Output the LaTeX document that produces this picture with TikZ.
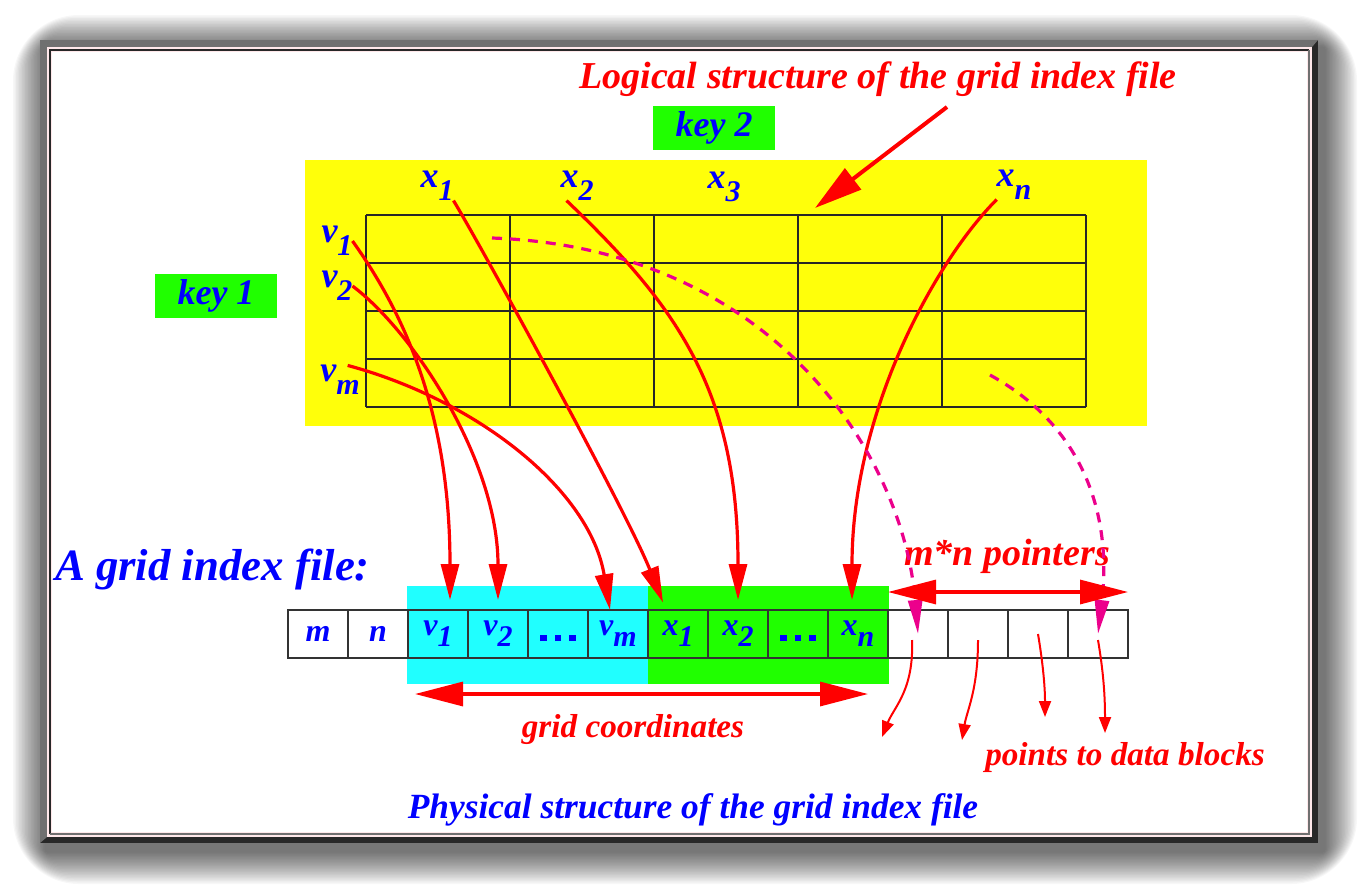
\documentclass[tikz,border=0pt]{standalone}
\usepackage{fontspec}
\setmainfont{Liberation Serif}
\usetikzlibrary{arrows.meta}
\definecolor{hiyellow}{RGB}{255,255,10}
\definecolor{hicyan}{RGB}{32,255,255}
\definecolor{higreen}{RGB}{32,255,0}
\definecolor{framepink}{RGB}{255,232,234}
\definecolor{framegray}{RGB}{112,112,112}
\definecolor{framedark}{RGB}{40,40,40}
\tikzset{
  bi/.style = {inner sep=0pt, outer sep=0pt,
               font=\fontsize{#1}{#1}\selectfont\bfseries\itshape},
  bi/.default = 18,
  lbl/.style = {bi=18, text=blue},
  keybox/.style = {bi=18, text=blue, fill=higreen,
                   minimum width=61pt, minimum height=22pt},
  cell/.style = {bi=16, text=blue, draw=black!80, line width=1pt,
                 minimum width=30pt, minimum height=24pt},
  gridline/.style = {black!85, line width=1pt},
  ptr/.style = {red, line width=1.6pt, shorten >=5pt,
                -{Triangle[length=18pt,width=9pt]}},
  mptr/.style = {magenta, line width=1.6pt, dash pattern=on 5pt off 4pt,
                 -{Triangle[length=17pt,width=7pt]}},
  dptr/.style = {red, line width=1pt, -{Triangle[length=8pt,width=6pt]}},
  dbl/.style = {red, line width=1.6pt,
                {Triangle[length=24pt,width=12pt]}-{Triangle[length=24pt,width=12pt]}}
}
\newcommand{\idx}[2]{#1\raisebox{-0.35em}{\fontsize{15}{15}\selectfont #2}}
\newcommand{\sqdots}{\raisebox{-7pt}{\rule{3.2pt}{3.2pt}\hspace{4pt}\rule{3.2pt}{3.2pt}\hspace{4pt}\rule{3.2pt}{3.2pt}}}

\begin{document}
\begin{tikzpicture}[x=0.5pt, y=-0.5pt]
	\def \cw{60}  % cell of the file row
	\def \gw{144} % grid column
	\def \gh{48}  % grid row

	\useasboundingbox (0,0) rectangle (1358,884);
	\fill[white] (0,0) rectangle (1358,884);

	% Shadow
	\foreach \s in {1,...,22}
		\fill[black, opacity=0.03, rounded corners=1.5*\s] (46-1.5*\s,48-1.5*\s) rectangle (1324+1.5*\s,851+1.5*\s);

	% Frame
	\fill[framedark] (40,40) rectangle (1318,843);
	\fill[framegray] (40,843) -- (40,40) -- (1318,40) -- (1312,47) -- (47,47) -- (47,837) -- cycle;
	\fill[framepink] (47,47) rectangle (1312,837);
	\draw[framedark, line width=1pt] (50,834) -- (50,50) -- (1309,50);
	\draw[framegray, line width=1pt] (1309,50) -- (1309,834) -- (50,834);
	\fill[white] (52,52) rectangle (1307,832);

	% Logical structure
	\node[bi=19, text=red, anchor=base] (logical) at (878,88) {Logical structure of the grid index file};
	\node[keybox] (key2) at (714,128) {key 2};
	\node[keybox] (key1) at (216,296) {key 1};

	\fill[hiyellow] (305,160) rectangle (1147,426);
	\foreach \r in {0,...,4}
		\draw[gridline] (366,215+\r*\gh) -- (366+5*\gw,215+\r*\gh);
	\foreach \c in {0,...,5}
		\draw[gridline] (366+\c*\gw,215) -- (366+\c*\gw,215+4*\gh);

	\node[lbl] (lx1) at (437,186) {\idx{x}{1}};
	\node[lbl] (lx2) at (577,186) {\idx{x}{2}};
	\node[lbl] (lx3) at (724,187) {\idx{x}{3}};
	\node[lbl] (lxn) at (1014,185) {\idx{x}{n}};
	\node[lbl] (lv1) at (337,241) {\idx{v}{1}};
	\node[lbl] (lv2) at (337,286) {\idx{v}{2}};
	\node[lbl] (lvm) at (340,380) {\idx{v}{m}};

	% Physical structure
	\node[bi=22.4, text=blue, anchor=base west] (afile) at (55,580) {A grid index file:};
	\fill[hicyan] (407,586) rectangle (648,684);
	\fill[higreen] (648,586) rectangle (889,684);

	\node[cell] (cm) at (318,634) {m};
	\node[cell] (cn) at (378,634) {n};
	\node[cell] (cv1) at (438,634) {\idx{v}{1}};
	\node[cell] (cv2) at (498,634) {\idx{v}{2}};
	\node[cell] (cvd) at (558,634) {\sqdots};
	\node[cell] (cvm) at (618,634) {\idx{v}{m}};
	\node[cell] (cx1) at (678,634) {\idx{x}{1}};
	\node[cell] (cx2) at (738,634) {\idx{x}{2}};
	\node[cell] (cxd) at (798,634) {\sqdots};
	\node[cell] (cxn) at (858,634) {\idx{x}{n}};
	\foreach \i in {1,...,4}
		\node[cell] (p\i) at (858+\i*\cw,634) {};

	\node[bi=19, text=red, anchor=base] (mn) at (1007,565) {m*n pointers};
	\node[bi=16.6, text=red, anchor=base] (gc) at (633,737) {grid coordinates};
	\node[bi=16.6, text=red, anchor=base] (pd) at (1125,765) {points to data blocks};
	\node[bi=17.7, text=blue, anchor=base] (physical) at (693,818) {Physical structure of the grid index file};

	% Free ends
	\coordinate (lt) at (947,107);
	\coordinate (lh) at (815,208);
	\coordinate (ms1) at (492,238);
	\coordinate (ms2) at (990,375);
	\coordinate (mnl) at (888,592);
	\coordinate (mnr) at (1128,592);
	\coordinate (gcl) at (415,694);
	\coordinate (gcr) at (868,694);
	\coordinate (d1) at (882,737);
	\coordinate (d2) at (962,740);
	\coordinate (d3) at (1045,717);
	\coordinate (d4) at (1105,733);

	% Grid coordinates
	\draw[ptr] (lv1.east) .. controls +(50,70) and +(0,-200) .. ([xshift=6pt]cv1.north);
	\draw[ptr] (lv2.east) .. controls +(60,45) and +(0,-150) .. (cv2.north);
	\draw[ptr, shorten >=0pt] ([xshift=-6pt]lvm.north east) .. controls +(130,35) and +(-20,-120) .. ([xshift=-4pt]cvm.north);
	\draw[ptr, shorten >=4pt] (lx1.south east) .. controls +(30,50) and +(-40,-100) .. ([xshift=-6pt]cx1.north);
	\draw[ptr] ([xshift=3pt]lx2.south west) .. controls +(110,105) and +(0,-220) .. (cx2.north);
	\draw[ptr] (lxn.south west) .. controls +(-60,60) and +(0,-200) .. ([xshift=-3pt]cxn.north);

	% Pointers
	\draw[mptr] (ms1) .. controls +(280,10) and +(-15,-180) .. (p1.center);
	\draw[mptr] (ms2) .. controls +(100,55) and +(13,-110) .. (p4.center);

	\draw[dptr] ([shift={(-3pt,-3pt)}]p1.center) .. controls +(2,50) and +(12,-30) .. (d1);
	\draw[dptr] ([yshift=-3pt]p2.center) .. controls +(0,50) and +(5,-30) .. (d2);
	\draw[dptr] (p3.center) .. controls +(5,30) and +(0,-30) .. (d3);
	\draw[dptr] ([yshift=-3pt]p4.center) .. controls +(5,30) and +(0,-40) .. (d4);

	\draw[dbl] (mnl) -- (mnr);
	\draw[dbl] (gcl) -- (gcr);
	\draw[red, line width=2pt, -{Triangle[length=24pt,width=13pt]}] (lt) -- (lh);

\end{tikzpicture}
\end{document}
